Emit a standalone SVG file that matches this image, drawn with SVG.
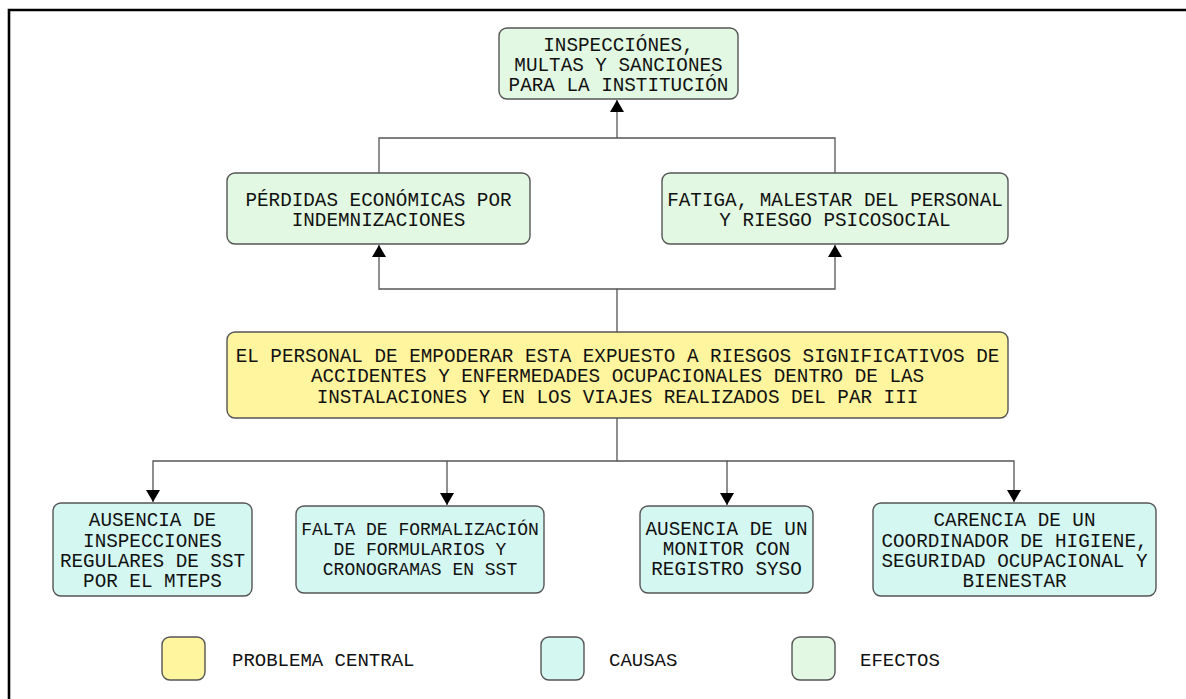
<svg xmlns="http://www.w3.org/2000/svg" width="1186" height="699" viewBox="0 0 1186 699">
<defs>
<style>
.box{stroke:#555;stroke-width:1.4}
.ef{fill:#e2f8e2}
.ca{fill:#d5f7f1}
.pc{fill:#fff59e}
text{font-family:"Liberation Mono","DejaVu Sans Mono",monospace;font-size:19.3px;fill:#111;text-anchor:middle}
.sm{font-size:18px}
.leg{text-anchor:start;font-size:19px}
.con{fill:none;stroke:#555;stroke-width:1.3}
</style>
<marker id="ah" viewBox="0 0 12 16" refX="12" refY="8" markerWidth="12" markerHeight="16" markerUnits="userSpaceOnUse" orient="auto">
<path d="M0,1 L12,8 L0,15 Z" fill="#000"/>
</marker>
</defs>
<rect width="1186" height="699" fill="#fff"/>
<path d="M9,699 V10 H1186" fill="none" stroke="#000" stroke-width="2.6"/>
<g id="connectors">
<path class="con" d="M379,173 V138 H835 V173"/>
<path class="con" d="M617,138 V100" marker-end="url(#ah)"/>
<path class="con" d="M617,332 V289 H379 V245" marker-end="url(#ah)"/>
<path class="con" d="M617,289 H835 V245" marker-end="url(#ah)"/>
<path class="con" d="M617,418 V461 H153 V502" marker-end="url(#ah)"/>
<path class="con" d="M447,461 V505" marker-end="url(#ah)"/>
<path class="con" d="M617,461 H727 V505" marker-end="url(#ah)"/>
<path class="con" d="M727,461 H1014 V502" marker-end="url(#ah)"/>
</g>
<g id="efecto-top">
<rect class="box ef" x="499" y="28" width="239" height="71" rx="8"/>
<text x="618.5" y="51">INSPECCIÓNES,</text>
<text x="618.5" y="71">MULTAS Y SANCIONES</text>
<text x="618.5" y="91">PARA LA INSTITUCIÓN</text>
</g>
<g id="efecto-perdidas">
<rect class="box ef" x="227" y="173" width="303" height="71" rx="8"/>
<text x="378.5" y="206">PÉRDIDAS ECONÓMICAS POR</text>
<text x="378.5" y="226">INDEMNIZACIONES</text>
</g>
<g id="efecto-fatiga">
<rect class="box ef" x="662" y="173" width="346" height="71" rx="8"/>
<text x="835" y="206">FATIGA, MALESTAR DEL PERSONAL</text>
<text x="835" y="226">Y RIESGO PSICOSOCIAL</text>
</g>
<g id="problema-central">
<rect class="box pc" x="227" y="332" width="781" height="86" rx="8"/>
<text x="617.5" y="362">EL PERSONAL DE EMPODERAR ESTA EXPUESTO A RIESGOS SIGNIFICATIVOS DE</text>
<text x="617.5" y="382">ACCIDENTES Y ENFERMEDADES OCUPACIONALES DENTRO DE LAS</text>
<text x="617.5" y="403">INSTALACIONES Y EN LOS VIAJES REALIZADOS DEL PAR III</text>
</g>
<g id="causa-1">
<rect class="box ca" x="53" y="503" width="199" height="93" rx="8"/>
<text x="152.5" y="526">AUSENCIA DE</text>
<text x="152.5" y="547">INSPECCIONES</text>
<text x="152.5" y="567">REGULARES DE SST</text>
<text x="152.5" y="587">POR EL MTEPS</text>
</g>
<g id="causa-2">
<rect class="box ca" x="296" y="506" width="248" height="87" rx="8"/>
<text class="sm" x="420" y="535">FALTA DE FORMALIZACIÓN</text>
<text class="sm" x="420" y="555">DE FORMULARIOS Y</text>
<text class="sm" x="420" y="575">CRONOGRAMAS EN SST</text>
</g>
<g id="causa-3">
<rect class="box ca" x="640" y="506" width="173" height="87" rx="8"/>
<text x="726.5" y="535">AUSENCIA DE UN</text>
<text x="726.5" y="555">MONITOR CON</text>
<text x="726.5" y="575">REGISTRO SYSO</text>
</g>
<g id="causa-4">
<rect class="box ca" x="873" y="503" width="283" height="93" rx="8"/>
<text x="1014.5" y="526">CARENCIA DE UN</text>
<text x="1014.5" y="547">COORDINADOR DE HIGIENE,</text>
<text x="1014.5" y="567">SEGURIDAD OCUPACIONAL Y</text>
<text x="1014.5" y="587">BIENESTAR</text>
</g>
<g id="leyenda">
<rect class="box pc" x="162" y="637" width="43" height="43" rx="8"/>
<text class="leg" x="232" y="666">PROBLEMA CENTRAL</text>
<rect class="box ca" x="541" y="637" width="43" height="43" rx="8"/>
<text class="leg" x="609" y="666">CAUSAS</text>
<rect class="box ef" x="792" y="637" width="43" height="43" rx="8"/>
<text class="leg" x="860" y="666">EFECTOS</text>
</g>
</svg>
